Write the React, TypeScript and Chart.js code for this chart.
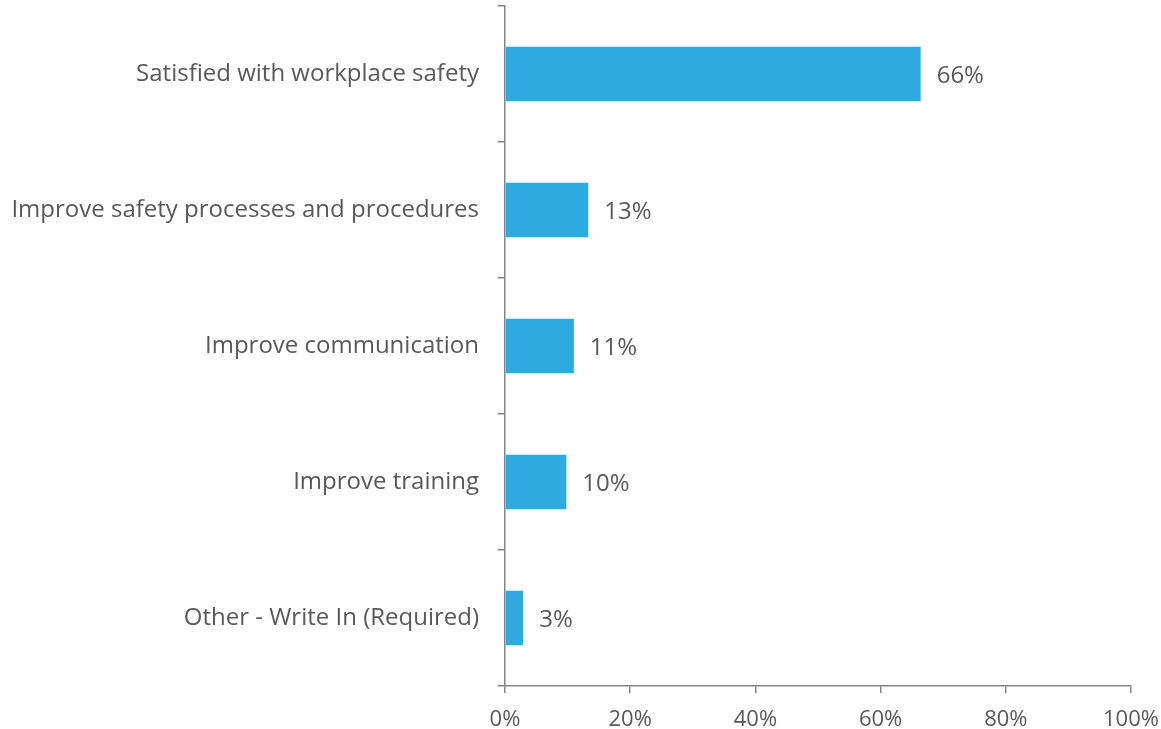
import React, { useEffect, useRef } from "react";
import { Chart, registerables } from "chart.js";

Chart.register(...registerables);

const categories = [
  "Satisfied with workplace safety",
  "Improve safety processes and procedures",
  "Improve communication",
  "Improve training",
  "Other - Write In (Required)",
];
const values = [66.4, 13.3, 11.0, 9.8, 2.9];
const valueLabels = ["66%", "13%", "11%", "10%", "3%"];
const xTicks = [0, 20, 40, 60, 80, 100];

const FONT = "'Open Sans', 'Noto Sans', sans-serif";
const TEXT = "#595959";
const AXIS = "#858585";
const BAR = "#2eaae0";

const valueLabelPlugin = {
  id: "valueLabels",
  afterDatasetsDraw(chart: any) {
    const ctx = chart.ctx;
    const meta = chart.getDatasetMeta(0);
    ctx.save();
    ctx.font = `24px ${FONT}`;
    ctx.fillStyle = TEXT;
    ctx.textAlign = "left";
    ctx.textBaseline = "middle";
    meta.data.forEach((bar: any, i: number) => {
      ctx.fillText(valueLabels[i], bar.x + 16, bar.y + 2);
    });
    ctx.restore();
  },
};

export default function App() {
  const ref = useRef<HTMLCanvasElement>(null);
  useEffect(() => {
    if (!ref.current) return;
    const chart = new Chart(ref.current, {
      type: "bar",
      data: {
        labels: categories,
        datasets: [
          {
            data: values,
            backgroundColor: BAR,
            barPercentage: 0.8,
            categoryPercentage: 0.5,
          },
        ],
      },
      options: {
        indexAxis: "y",
        animation: false,
        responsive: false,
        maintainAspectRatio: false,
        layout: { padding: { top: 6, right: 30, bottom: 0, left: 0 } },
        plugins: { legend: { display: false }, tooltip: { enabled: false } },
        scales: {
          x: {
            min: 0,
            max: 100,
            afterBuildTicks(scale: any) {
              scale.ticks = xTicks.map((v) => ({ value: v }));
            },
            afterFit(scale: any) {
              scale.height = 43;
              scale.paddingLeft = 0;
              scale.paddingRight = 0;
            },
            border: { color: AXIS, width: 1.5 },
            grid: {
              drawOnChartArea: false,
              drawTicks: true,
              tickLength: 7,
              color: AXIS,
              lineWidth: 1.5,
            },
            ticks: {
              padding: 14,
              color: TEXT,
              font: { family: FONT, size: 22 },
              callback: (v: any) => `${v}%`,
              maxRotation: 0,
            },
          },
          y: {
            afterFit(scale: any) {
              scale.width = 505;
              scale.paddingTop = 0;
              scale.paddingBottom = 0;
            },
            border: { color: AXIS, width: 1.5 },
            grid: {
              offset: true,
              drawOnChartArea: false,
              drawTicks: true,
              tickLength: 7,
              color: AXIS,
              lineWidth: 1.5,
            },
            ticks: {
              padding: 19,
              color: TEXT,
              font: { family: FONT, size: 24 },
            },
          },
        },
      },
      plugins: [valueLabelPlugin],
    });
    return () => chart.destroy();
  }, []);
  return (
    <div style={{ position: "absolute", left: 0, top: 0, width: 1161, height: 729, background: "#fff" }}>
      <canvas ref={ref} width={1161} height={729} style={{ width: 1161, height: 729, display: "block" }} />
    </div>
  );
}
